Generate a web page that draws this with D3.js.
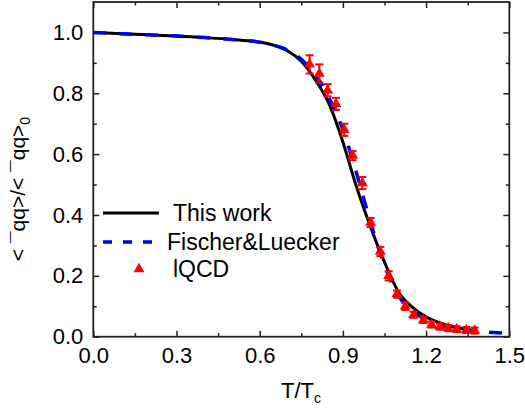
<!DOCTYPE html>
<html><head><meta charset="utf-8">
<script src="https://cdn.jsdelivr.net/npm/d3@7"></script>
<style>body{margin:0;background:#fff}svg{display:block}text{font-family:"Liberation Sans",Arial,sans-serif}</style>
</head><body>
<svg id="c" width="525" height="413"></svg>
<script>
// ---- data ----
const thisWorkT = [0, 0.1, 0.2, 0.3, 0.4, 0.5, 0.6, 0.65, 0.7, 0.75, 0.8, 0.85, 0.9, 0.95, 1.0, 1.05, 1.1, 1.15, 1.2, 1.25, 1.3, 1.37];
const thisWorkY = [1.0, 0.996, 0.992, 0.988, 0.983, 0.977, 0.968, 0.958, 0.94, 0.905, 0.845, 0.765, 0.64, 0.49, 0.36, 0.245, 0.148, 0.097, 0.065, 0.045, 0.032, 0.021];
const fischerT = [0, 0.1, 0.2, 0.3, 0.4, 0.5, 0.6, 0.65, 0.7, 0.75, 0.8, 0.85, 0.9, 0.95, 1.0, 1.05, 1.1, 1.15, 1.2, 1.25, 1.3, 1.35, 1.4, 1.48];
const fischerY = [1.0, 0.996, 0.992, 0.988, 0.983, 0.977, 0.968, 0.958, 0.942, 0.912, 0.862, 0.785, 0.68, 0.535, 0.375, 0.235, 0.135, 0.085, 0.055, 0.037, 0.027, 0.02, 0.016, 0.012];
const lqcdT = [0.78, 0.815, 0.845, 0.875, 0.905, 0.935, 0.97, 1.0, 1.035, 1.065, 1.095, 1.125, 1.155, 1.19, 1.22, 1.25, 1.28, 1.31, 1.345, 1.375];
const lqcdY = [0.895, 0.865, 0.81, 0.765, 0.68, 0.595, 0.505, 0.375, 0.28, 0.2, 0.14, 0.1, 0.072, 0.055, 0.04, 0.033, 0.028, 0.025, 0.022, 0.02];
const lqcdErr = [0.03, 0.03, 0.02, 0.02, 0.02, 0.015, 0.02, 0.015, 0.015, 0.015, 0.012, 0.012, 0.01, 0.01, 0.01, 0.01, 0.01, 0.01, 0.01, 0.01];
const xTicks = [0, 0.3, 0.6, 0.9, 1.2, 1.5];
const xMinor = [0.15, 0.45, 0.75, 1.05, 1.35];
const yTicks = [0, 0.2, 0.4, 0.6, 0.8, 1.0];
const yMinor = [0.1, 0.3, 0.5, 0.7, 0.9];
const seriesNames = ["This work", "Fischer&Luecker", "lQCD"];

// ---- layout ----
const L = 93.3, R = 509.3, T = 2, B = 336.7;
const svg = d3.select("#c");
const x = d3.scaleLinear().domain([0, 1.5]).range([L, R]);
const y = d3.scaleLinear().domain([0, 1.1]).range([B, T]);
const fs = 22;

// axes
function styleAxis(g){ g.select(".domain").remove(); g.selectAll("line").attr("stroke","#222").attr("stroke-width",1.5); }
svg.append("g").attr("transform",`translate(0,${B})`)
  .call(d3.axisBottom(x).tickValues(xTicks).tickSize(-6).tickPadding(11).tickFormat(d3.format(".1f")))
  .call(styleAxis).call(g=>g.selectAll("text").attr("font-size",fs).attr("fill","#000").attr("font-family","Liberation Sans, Arial").attr("dy","0.71em"));
svg.append("g").attr("transform",`translate(0,${B})`).call(d3.axisBottom(x).tickValues(xMinor).tickSize(-3.5).tickFormat("")).call(styleAxis);
svg.append("g").attr("transform",`translate(0,${T})`).call(d3.axisTop(x).tickValues(xTicks).tickSize(-6).tickFormat("")).call(styleAxis);
svg.append("g").attr("transform",`translate(0,${T})`).call(d3.axisTop(x).tickValues(xMinor).tickSize(-3.5).tickFormat("")).call(styleAxis);
svg.append("g").attr("transform",`translate(${L},0)`)
  .call(d3.axisLeft(y).tickValues(yTicks).tickSize(-6).tickPadding(10).tickFormat(d3.format(".1f")))
  .call(styleAxis).call(g=>g.selectAll("text").attr("font-size",fs).attr("fill","#000").attr("font-family","Liberation Sans, Arial"));
svg.append("g").attr("transform",`translate(${L},0)`).call(d3.axisLeft(y).tickValues(yMinor).tickSize(-3.5).tickFormat("")).call(styleAxis);
svg.append("g").attr("transform",`translate(${R},0)`).call(d3.axisRight(y).tickValues(yTicks).tickSize(-6).tickFormat("")).call(styleAxis);
svg.append("g").attr("transform",`translate(${R},0)`).call(d3.axisRight(y).tickValues(yMinor).tickSize(-3.5).tickFormat("")).call(styleAxis);

// frame
svg.append("rect").attr("x",L).attr("y",T).attr("width",R-L).attr("height",B-T)
  .attr("fill","none").attr("stroke","#222").attr("stroke-width",1.8);

// curves
const line = d3.line().x(d=>x(d[0])).y(d=>y(d[1])).curve(d3.curveMonotoneX);
svg.append("path").datum(thisWorkT.map((t,i)=>[t,thisWorkY[i]]))
  .attr("d",line).attr("fill","none").attr("stroke","#000").attr("stroke-width",3);
svg.append("path").datum(fischerT.map((t,i)=>[t,fischerY[i]]))
  .attr("d",line).attr("fill","none").attr("stroke","#0000ee").attr("stroke-width",3.5).attr("stroke-dasharray","13,13");

// lQCD points
const red = "#ff0000";
const pts = lqcdT.map((t,i)=>({t, v:lqcdY[i], e:lqcdErr[i]}));
const eg = svg.append("g").attr("stroke",red).attr("stroke-width",2);
pts.forEach(p=>{
  const cx = x(p.t), y1 = y(p.v+p.e), y2 = y(p.v-p.e);
  eg.append("line").attr("x1",cx).attr("x2",cx).attr("y1",y1).attr("y2",y2);
  eg.append("line").attr("x1",cx-4).attr("x2",cx+4).attr("y1",y1).attr("y2",y1);
  eg.append("line").attr("x1",cx-4).attr("x2",cx+4).attr("y1",y2).attr("y2",y2);
});
const tri = d3.symbol().type(d3.symbolTriangle).size(52);
svg.append("g").selectAll("path").data(pts).join("path")
  .attr("d",tri).attr("transform",d=>`translate(${x(d.t)},${y(d.v)})`).attr("fill",red);

// legend
const lg = svg.append("g");
lg.append("line").attr("x1",103).attr("x2",159).attr("y1",213).attr("y2",213).attr("stroke","#000").attr("stroke-width",3);
lg.append("text").attr("x",173).attr("y",221).attr("font-size",23).text(seriesNames[0]);
lg.append("line").attr("x1",103).attr("x2",159).attr("y1",242).attr("y2",242).attr("stroke","#0000ee").attr("stroke-width",3.5).attr("stroke-dasharray","9,11");
lg.append("text").attr("x",167).attr("y",250).attr("font-size",23).text(seriesNames[1]);
lg.append("path").attr("d",tri).attr("transform","translate(139,269)").attr("fill",red);
lg.append("text").attr("x",173).attr("y",277).attr("font-size",23).text(seriesNames[2]);

// axis titles
const xt = svg.append("text").attr("x",301).attr("y",398).attr("text-anchor","middle").attr("font-size",22);
xt.append("tspan").text("T/T");
xt.append("tspan").attr("font-size",14).attr("dy",5).text("c");
const yt = svg.append("text").attr("transform","translate(25,189) rotate(-90)").attr("text-anchor","middle").attr("font-size",21);
yt.append("tspan").text("< \u00AFqq>/< \u00AFqq>");
yt.append("tspan").attr("font-size",14).attr("dy",5).text("0");
</script>
</body></html>
